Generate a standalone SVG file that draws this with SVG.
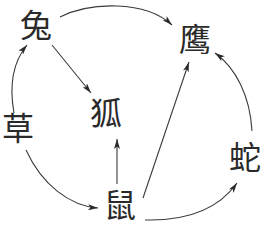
<svg xmlns="http://www.w3.org/2000/svg" width="264" height="225" viewBox="0 0 264 225">
<defs>
<style>
.n{font-family:"Noto Sans CJK SC","Noto Sans CJK JP",sans-serif;font-size:32px;fill:#2a2a2a;text-anchor:middle;font-weight:400}
.e{fill:none;stroke:#3a3a3a;stroke-width:1.1;marker-end:url(#ah)}
</style>
<marker id="ah" viewBox="0 0 10 6" refX="10" refY="3" markerWidth="10" markerHeight="6" markerUnits="userSpaceOnUse" orient="auto">
<path d="M0,0 L10,3 L0,6 L2.5,3 z" fill="#2a2a2a"/>
</marker>
</defs>
<rect width="264" height="225" fill="#ffffff"/>
<g id="edges">
<path class="e" d="M60,17 C90,2 145,0 172,25"/>
<path class="e" d="M52,45 L91,93"/>
<path class="e" d="M14,113 C9,85 13,62 27,45"/>
<path class="e" d="M26,150 C42,185 70,206 98,208"/>
<path class="e" d="M117,184 L117,139"/>
<path class="e" d="M143,198 L189,62"/>
<path class="e" d="M145,220 C185,221 217,211 237,183"/>
<path class="e" d="M252,131 C250,96 236,68 215,53"/>
</g>
<g id="tu"><text class="n" x="36" y="37">兔</text></g>
<g id="ying"><text class="n" x="195" y="51">鹰</text></g>
<g id="hu"><text class="n" x="106" y="125">狐</text></g>
<g id="cao"><text class="n" x="18" y="140">草</text></g>
<g id="shu"><text class="n" x="120" y="217">鼠</text></g>
<g id="she"><text class="n" x="245" y="169">蛇</text></g>
</svg>
